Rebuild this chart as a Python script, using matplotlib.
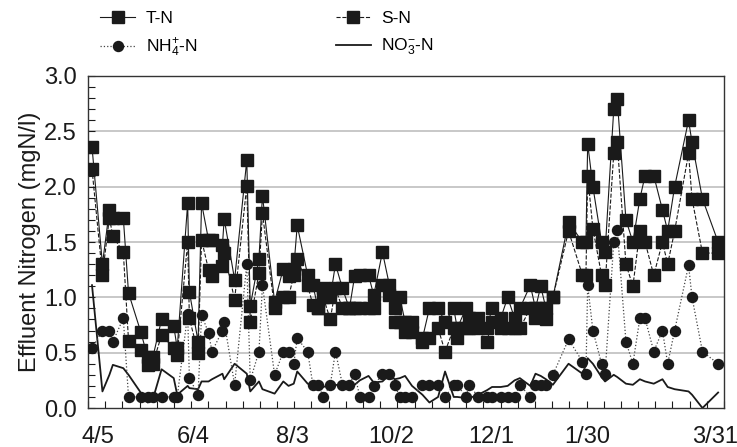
import numpy as np
import matplotlib
matplotlib.use('Agg')
import matplotlib.pyplot as plt
from matplotlib.ticker import MultipleLocator, FixedLocator

plt.rcParams['font.family'] = ['Liberation Sans', 'DejaVu Sans']
plt.rcParams['mathtext.fontset'] = 'custom'
plt.rcParams['mathtext.rm'] = 'Liberation Sans'
plt.rcParams['mathtext.it'] = 'Liberation Sans'

# sampling day (days after 4/5) and effluent nitrogen (mgN/l)
day = [0, 6, 10, 12, 18, 21, 28, 32, 35, 40,
       47, 49, 55, 56, 61, 63, 67, 69, 75, 76,
       82, 89, 91, 96, 98, 105, 110, 113, 116, 118,
       124, 127, 130, 133, 137, 140, 144, 148, 151, 154,
       159, 162, 167, 171, 174, 177, 180, 184, 190, 194,
       199, 203, 208, 210, 215, 217, 222, 227, 230, 235,
       239, 243, 246, 252, 255, 258, 261, 265, 274, 282,
       284, 285, 288, 293, 295, 300, 302, 307, 311, 315,
       318, 323, 328, 331, 335, 343, 345, 351, 360]
t_n = [2.36, 1.30, 1.79, 1.72, 1.72, 1.04, 0.69, 0.46, 0.46, 0.80,
       0.74, 0.54, 1.85, 1.05, 0.60, 1.85, 1.52, 1.52, 1.47, 1.71,
       1.16, 2.24, 0.92, 1.35, 1.92, 0.96, 1.26, 1.19, 1.26, 1.65,
       1.20, 1.11, 0.90, 1.08, 1.00, 1.30, 1.08, 0.90, 1.19, 1.20,
       1.20, 1.02, 1.41, 1.11, 0.90, 1.00, 0.78, 0.78, 0.63, 0.90,
       0.90, 0.78, 0.90, 0.72, 0.90, 0.81, 0.81, 0.72, 0.90, 0.81,
       1.00, 0.81, 0.90, 1.11, 0.90, 1.10, 0.90, 1.00, 1.68, 1.50,
       1.50, 2.39, 2.00, 1.50, 1.41, 2.70, 2.79, 1.70, 1.50, 1.89,
       2.10, 2.10, 1.79, 1.60, 2.00, 2.60, 2.40, 1.89, 1.50]
s_n = [2.16, 1.20, 1.72, 1.55, 1.41, 0.61, 0.52, 0.39, 0.40, 0.66,
       0.54, 0.48, 1.50, 0.81, 0.50, 1.52, 1.25, 1.19, 1.28, 1.40,
       0.98, 2.01, 0.78, 1.22, 1.76, 0.90, 1.00, 1.00, 1.20, 1.35,
       1.11, 0.93, 0.90, 1.00, 0.80, 1.08, 0.90, 0.90, 0.90, 0.90,
       0.90, 0.90, 1.11, 1.02, 0.78, 0.78, 0.69, 0.69, 0.60, 0.63,
       0.72, 0.51, 0.72, 0.63, 0.72, 0.72, 0.72, 0.60, 0.78, 0.72,
       0.72, 0.72, 0.72, 0.90, 0.81, 0.90, 0.80, 1.00, 1.60, 1.20,
       1.20, 2.10, 1.62, 1.20, 1.11, 2.30, 2.40, 1.30, 1.10, 1.60,
       1.50, 1.20, 1.50, 1.30, 1.60, 2.30, 1.89, 1.40, 1.40]
nh4_n = [0.54, 0.70, 0.70, 0.60, 0.81, 0.10, 0.10, 0.10, 0.10, 0.10,
         0.10, 0.10, 0.85, 0.27, 0.12, 0.84, 0.68, 0.51, 0.70, 0.78,
         0.21, 1.30, 0.25, 0.51, 1.11, 0.30, 0.51, 0.51, 0.40, 0.63,
         0.51, 0.21, 0.21, 0.10, 0.21, 0.51, 0.21, 0.21, 0.31, 0.10,
         0.10, 0.20, 0.31, 0.31, 0.21, 0.10, 0.10, 0.10, 0.21, 0.21,
         0.21, 0.10, 0.21, 0.21, 0.10, 0.21, 0.10, 0.10, 0.10, 0.10,
         0.10, 0.10, 0.21, 0.10, 0.21, 0.21, 0.21, 0.30, 0.62, 0.42,
         0.31, 1.11, 0.70, 0.40, 0.31, 1.50, 1.61, 0.60, 0.40, 0.81,
         0.81, 0.51, 0.70, 0.40, 0.70, 1.29, 1.00, 0.51, 0.40]
no3_n = [1.11, 0.15, 0.30, 0.39, 0.36, 0.30, 0.14, 0.05, 0.08, 0.35,
         0.27, 0.12, 0.20, 0.18, 0.17, 0.24, 0.24, 0.26, 0.31, 0.26,
         0.40, 0.31, 0.15, 0.24, 0.17, 0.13, 0.24, 0.20, 0.22, 0.33,
         0.22, 0.20, 0.18, 0.19, 0.21, 0.21, 0.20, 0.19, 0.21, 0.25,
         0.29, 0.23, 0.24, 0.30, 0.26, 0.27, 0.29, 0.20, 0.12, 0.05,
         0.10, 0.33, 0.10, 0.10, 0.09, 0.09, 0.12, 0.16, 0.19, 0.19,
         0.20, 0.25, 0.27, 0.20, 0.31, 0.29, 0.26, 0.21, 0.40, 0.31,
         0.39, 0.45, 0.40, 0.28, 0.24, 0.30, 0.28, 0.22, 0.21, 0.26,
         0.24, 0.22, 0.26, 0.19, 0.17, 0.15, 0.12, 0.00, 0.14]

date_labels = ['4/5', '6/4', '8/3', '10/2', '12/1', '1/30', '3/31']
date_pos = [3.5, 58, 115.5, 172, 229.5, 285, 358]

ink = '#1a1a1a'
x0, x1 = -2.3, 363.4

fig = plt.figure(figsize=(7.37, 4.47), dpi=100)
ax = fig.add_axes([0.1194, 0.0872, 0.8630, 0.7428])

for yv in [0.5, 1.0, 1.5, 2.0, 2.5]:
    ax.axhline(yv, color='#c4c4c4', lw=1.3, zorder=0)

ax.plot(day, no3_n, '-', color=ink, lw=1.3, label=r'NO$_3^{-}$-N', zorder=2)
ax.plot(day, nh4_n, ':', color='#444444', lw=0.9, marker='o', ms=7.2,
        mfc=ink, mec=ink, label=r'NH$_4^{+}$-N', zorder=3)
ax.plot(day, s_n, '--', color=ink, lw=0.8, marker='s', ms=9,
        mfc=ink, mec=ink, label='S-N', zorder=4)
ax.plot(day, t_n, '-', color=ink, lw=0.8, marker='s', ms=9,
        mfc=ink, mec=ink, label='T-N', zorder=5)

ax.set_xlim(x0, x1)
ax.set_ylim(0, 3.0)
ax.yaxis.set_major_locator(MultipleLocator(0.5))
ax.yaxis.set_minor_locator(MultipleLocator(0.1))
ax.yaxis.set_major_formatter(plt.FormatStrFormatter('%.1f'))
ax.tick_params(axis='y', which='both', direction='in', length=5, width=0.8,
               labelsize=17, pad=8, colors=ink)
ax.xaxis.set_major_locator(FixedLocator(date_pos))
ax.set_xticklabels(date_labels)
ax.xaxis.set_minor_locator(FixedLocator(np.linspace(x0, x1, 38)))
ax.tick_params(axis='x', which='major', length=0, labelsize=17, pad=13, colors=ink)
ax.tick_params(axis='x', which='minor', direction='in', length=5, width=0.8, colors=ink)
for sp in ax.spines.values():
    sp.set_color('#333333')
    sp.set_linewidth(1.0)

ax.set_ylabel('Effluent Nitrogen (mgN/l)', fontsize=17, color=ink)
ax.yaxis.set_label_coords(-0.074, 0.5)

h, l = ax.get_legend_handles_labels()
order = [3, 1, 2, 0]
fig.legend([h[i] for i in order], [l[i] for i in order], ncol=2,
           loc='upper left', bbox_to_anchor=(0.115, 1.01), frameon=False,
           fontsize=12.5, handlelength=2.0, columnspacing=8.0,
           handletextpad=0.6, labelspacing=0.6)

fig.savefig('out.png', dpi=100)
